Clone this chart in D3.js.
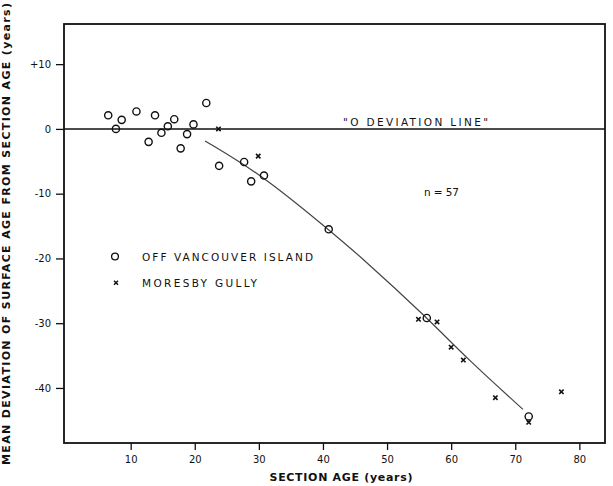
<!DOCTYPE html>
<html>
<head>
<meta charset="utf-8">
<script src="https://cdn.jsdelivr.net/npm/d3@7"></script>
<style>
  body { margin: 0; background: #fff; }
  svg { display: block; }
  text { font-family: "DejaVu Sans", sans-serif; fill: #111; }
</style>
</head>
<body>
<div id="chart"></div>
<script>
// values
var vancouverAge = [6.5, 7.7, 8.6, 10.9, 13.8, 12.8, 14.8, 15.8, 16.8, 17.8, 18.8, 19.8, 21.8, 23.8, 27.7, 28.8, 30.8, 40.9, 56.2, 72.1];
var vancouverDev = [2.1, 0.0, 1.4, 2.7, 2.1, -2.0, -0.6, 0.4, 1.5, -3.0, -0.8, 0.7, 4.0, -5.7, -5.1, -8.1, -7.2, -15.5, -29.2, -44.4];

var moresbyAge = [23.7, 29.9, 54.9, 57.8, 60.0, 61.9, 66.9, 72.1, 77.2];
var moresbyDev = [0.0, -4.2, -29.4, -29.8, -33.7, -35.7, -41.5, -45.3, -40.6];

var fitAge = [21.6, 30.8, 40.8, 45.3, 56.2, 62.7, 71.2];
var fitDev = [-1.85, -7.3, -15.5, -19.2, -29.1, -35.7, -43.3];

var xTicks = [10, 20, 30, 40, 50, 60, 70, 80];
var yTicks = [10, 0, -10, -20, -30, -40];
var yTickLabels = ["+10", "0", "-10", "-20", "-30", "-40"];

var width = 613, height = 486;

var svg = d3.select("#chart").append("svg")
    .attr("width", width)
    .attr("height", height);

var x = d3.scaleLinear().domain([-0.4, 84]).range([64, 605]);
var y = d3.scaleLinear().domain([16.2, -48.5]).range([24, 443]);

// frame
svg.append("rect")
    .attr("x", x.range()[0])
    .attr("y", y.range()[0])
    .attr("width", x.range()[1] - x.range()[0])
    .attr("height", y.range()[1] - y.range()[0])
    .attr("fill", "none")
    .attr("stroke", "#111")
    .attr("stroke-width", 1.8);

// axes, ticks outward
var xAxis = svg.append("g")
    .attr("transform", "translate(0," + y.range()[1] + ")")
    .call(d3.axisBottom(x).tickValues(xTicks).tickSize(7).tickPadding(6).tickFormat(d3.format("d")));

var yAxis = svg.append("g")
    .attr("transform", "translate(" + x.range()[0] + ",0)")
    .call(d3.axisLeft(y).tickValues(yTicks).tickSize(8).tickPadding(5)
      .tickFormat(function(d, i) { return yTickLabels[i]; }));

[xAxis, yAxis].forEach(function(a) {
  a.select(".domain").remove();
  a.selectAll(".tick line").attr("stroke", "#111").attr("stroke-width", 1.3);
  a.selectAll(".tick text")
      .style("font-family", "\"DejaVu Sans\", sans-serif")
      .style("font-size", "10px")
      .attr("fill", "#222");
});

// zero deviation line
svg.append("line")
    .attr("x1", x.range()[0])
    .attr("x2", x.range()[1])
    .attr("y1", y(0))
    .attr("y2", y(0))
    .attr("stroke", "#111")
    .attr("stroke-width", 1.5);

// fitted curve
var fit = fitAge.map(function(d, i) { return [d, fitDev[i]]; });
svg.append("path")
    .datum(fit)
    .attr("fill", "none")
    .attr("stroke", "#444")
    .attr("stroke-width", 1.2)
    .attr("d", d3.line()
      .x(function(d) { return x(d[0]); })
      .y(function(d) { return y(d[1]); })
      .curve(d3.curveBasis));

// Off Vancouver Island : open circles
svg.append("g").selectAll("circle")
    .data(vancouverAge)
    .enter().append("circle")
    .attr("cx", function(d) { return x(d); })
    .attr("cy", function(d, i) { return y(vancouverDev[i]); })
    .attr("r", 3.6)
    .attr("fill", "none")
    .attr("stroke", "#111")
    .attr("stroke-width", 1.4);

// Moresby Gully : small x
var cross = function(cx, cy, s) {
  return "M" + (cx - s) + "," + (cy - s) + "L" + (cx + s) + "," + (cy + s) +
         "M" + (cx + s) + "," + (cy - s) + "L" + (cx - s) + "," + (cy + s);
};
svg.append("g").selectAll("path")
    .data(moresbyAge)
    .enter().append("path")
    .attr("d", function(d, i) { return cross(x(d), y(moresbyDev[i]), 2.2); })
    .attr("stroke", "#111")
    .attr("stroke-width", 1.6)
    .attr("fill", "none");

// labels
svg.append("text")
    .attr("x", 343)
    .attr("y", 125.5)
    .attr("textLength", 145)
    .attr("lengthAdjust", "spacing")
    .style("font-size", "10.5px")
    .text("\"O DEVIATION LINE\"");

svg.append("text")
    .attr("x", 424)
    .attr("y", 196)
    .attr("textLength", 35)
    .attr("lengthAdjust", "spacing")
    .style("font-size", "10.5px")
    .text("n = 57");

// legend
svg.append("circle")
    .attr("cx", 115).attr("cy", 256.5).attr("r", 3.4)
    .attr("fill", "none").attr("stroke", "#111").attr("stroke-width", 1.3);
svg.append("path")
    .attr("d", cross(116, 282.7, 2))
    .attr("stroke", "#111").attr("stroke-width", 1.5);

svg.append("text")
    .attr("x", 142).attr("y", 260.5)
    .attr("textLength", 171).attr("lengthAdjust", "spacing")
    .style("font-size", "10.5px")
    .text("OFF VANCOUVER ISLAND");
svg.append("text")
    .attr("x", 142).attr("y", 286.7)
    .attr("textLength", 115).attr("lengthAdjust", "spacing")
    .style("font-size", "10.5px")
    .text("MORESBY GULLY");

// axis titles
svg.append("text")
    .attr("x", 341)
    .attr("y", 481)
    .attr("text-anchor", "middle")
    .attr("textLength", 143).attr("lengthAdjust", "spacing")
    .style("font-size", "11px")
    .style("font-weight", "bold")
    .text("SECTION AGE (years)");

svg.append("text")
    .attr("transform", "translate(10,234) rotate(-90)")
    .attr("text-anchor", "middle")
    .attr("textLength", 462).attr("lengthAdjust", "spacing")
    .style("font-size", "11px")
    .style("font-weight", "bold")
    .text("MEAN DEVIATION OF SURFACE AGE FROM SECTION AGE (years)");
</script>
</body>
</html>
